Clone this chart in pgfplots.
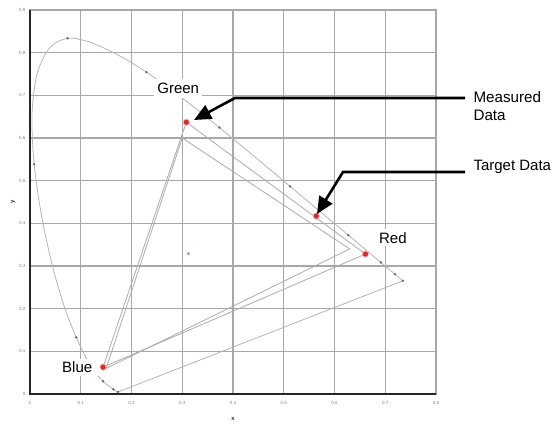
\documentclass[border=0pt]{standalone}
\usepackage{fontspec}
\setmainfont{Liberation Sans}
\usepackage{pgfplots}
\pgfplotsset{compat=1.18}
\usetikzlibrary{arrows.meta}
\definecolor{gridgray}{HTML}{A8A8A8}
\definecolor{lociGray}{HTML}{B4B4B4}
\definecolor{triGray}{HTML}{ABABAB}
\definecolor{dotRed}{HTML}{D42A2A}
\begin{document}
\begin{tikzpicture}
\path[use as bounding box] (-30pt,-30pt) rectangle (525pt,394pt);
\begin{axis}[
  at={(0,0)}, anchor=south west,
  scale only axis, width=406pt, height=384pt,
  xmin=0, xmax=0.8, ymin=0, ymax=0.9,
  xtick={0,0.1,0.2,0.3,0.4,0.5,0.6,0.7,0.8},
  ytick={0,0.1,0.2,0.3,0.4,0.5,0.6,0.7,0.8,0.9},
  xticklabels={0,0.1,0.2,0.3,0.4,0.5,0.6,0.7,0.8},
  yticklabels={0,0.1,0.2,0.3,0.4,0.5,0.6,0.7,0.8,0.9},
  grid=major,
  major grid style={gridgray, line width=1.2pt},
  axis line style={gridgray, line width=1.5pt},
  tick style={draw=none},
  ticklabel style={font=\fontsize{4.5}{5}\selectfont, text=gray},
  xticklabel style={yshift=-4pt},
  yticklabel style={xshift=-1pt},
  xlabel={\textbf{x}}, ylabel={\textbf{y}},
  label style={font=\fontsize{6}{7}\selectfont, text=black!80},
  xlabel style={yshift=-6pt},
  ylabel style={yshift=-3pt},
  clip=false,
]
% spectral locus
\addplot[lociGray, line width=0.8pt, smooth] coordinates {
(0.1741,0.0050) (0.1738,0.0049) (0.1733,0.0048) (0.1726,0.0048)
(0.1714,0.0051) (0.1689,0.0069) (0.1644,0.0109) (0.1566,0.0177)
(0.1440,0.0297) (0.1355,0.0399) (0.1241,0.0578) (0.1096,0.0868)
(0.0913,0.1327) (0.0687,0.2007) (0.0454,0.2950) (0.0235,0.4127)
(0.0082,0.5384) (0.0039,0.6548) (0.0139,0.7502) (0.0389,0.8120)
(0.0743,0.8338) (0.1142,0.8262) (0.1547,0.8059) (0.1929,0.7816)
(0.2296,0.7543) (0.2658,0.7243) (0.3016,0.6923) (0.3373,0.6589)
(0.3731,0.6245) (0.4087,0.5896) (0.4441,0.5547) (0.4788,0.5202)
(0.5125,0.4866) (0.5448,0.4544) (0.5752,0.4242) (0.6029,0.3965)
(0.6270,0.3725) (0.6482,0.3514) (0.6658,0.3340) (0.6801,0.3197)
(0.6915,0.3083) (0.7006,0.2993) (0.7079,0.2920) (0.7140,0.2859)
(0.7190,0.2809) (0.7230,0.2770) (0.7260,0.2740) (0.7300,0.2700)
(0.7320,0.2680) (0.7334,0.2666) (0.7347,0.2653)
};
% line of purples
\addplot[lociGray, line width=0.8pt] coordinates {(0.1741,0.0050) (0.7347,0.2653)};
% target triangle
\addplot[triGray, line width=0.8pt] coordinates {(0.30,0.60) (0.63,0.34) (0.15,0.06) (0.30,0.60)};
% measured triangle
\addplot[triGray, line width=0.8pt] coordinates {(0.308,0.637) (0.661,0.328) (0.144,0.063) (0.308,0.637)};
% wavelength dots
\addplot[only marks, mark=*, mark size=1pt, color=black!60] coordinates {
(0.1733,0.0048) (0.1644,0.0109) (0.1440,0.0297) (0.0913,0.1327)
(0.0082,0.5384) (0.0743,0.8338) (0.2296,0.7543) (0.3731,0.6245)
(0.5125,0.4866) (0.6270,0.3725) (0.6915,0.3083) (0.7190,0.2809)
(0.7347,0.2653)
};
% white point
\addplot[only marks, mark=*, mark size=1.6pt, color=black!55, mark options={fill=brown!60!black!70, draw=orange!40}] coordinates {(0.312,0.329)};
% labels with white boxes
\node[fill=white, font=\fontsize{15}{17}\selectfont, inner xsep=3pt, inner ysep=4pt] at (axis cs:0.292,0.716) {Green};
\node[fill=white, font=\fontsize{15}{17}\selectfont, inner xsep=6pt, inner ysep=3pt] at (axis cs:0.093,0.063) {Blue};
\node[fill=white, font=\fontsize{15}{17}\selectfont, inner xsep=8pt, inner ysep=3pt] at (axis cs:0.715,0.366) {Red};
% measured and target points
\addplot[only marks, mark=*, mark size=3.2pt, color=dotRed, mark options={fill=dotRed, draw=red!25, line width=0.8pt}] coordinates {
(0.308,0.637) (0.564,0.417) (0.661,0.328) (0.144,0.063)
};
\end{axis}
% black left/bottom axis lines
\draw[black!85, line width=1.6pt] (0pt,384pt) -- (0pt,0pt) -- (406pt,0pt);
% annotations
\draw[line width=2.6pt, miter limit=4, -{Triangle[length=17pt,width=15pt]}] (435pt,296pt) -- (205pt,296pt) -- (164pt,274pt);
\draw[line width=2.6pt, -{Triangle[length=17pt,width=15pt]}] (435pt,222pt) -- (313pt,222pt) -- (287pt,180pt);
\node[anchor=west, align=left, font=\fontsize{15.2}{18}\selectfont] at (440pt,288pt) {Measured\\Data};
\node[anchor=west, font=\fontsize{15}{17}\selectfont] at (440pt,227pt) {Target Data};
\end{tikzpicture}
\end{document}
